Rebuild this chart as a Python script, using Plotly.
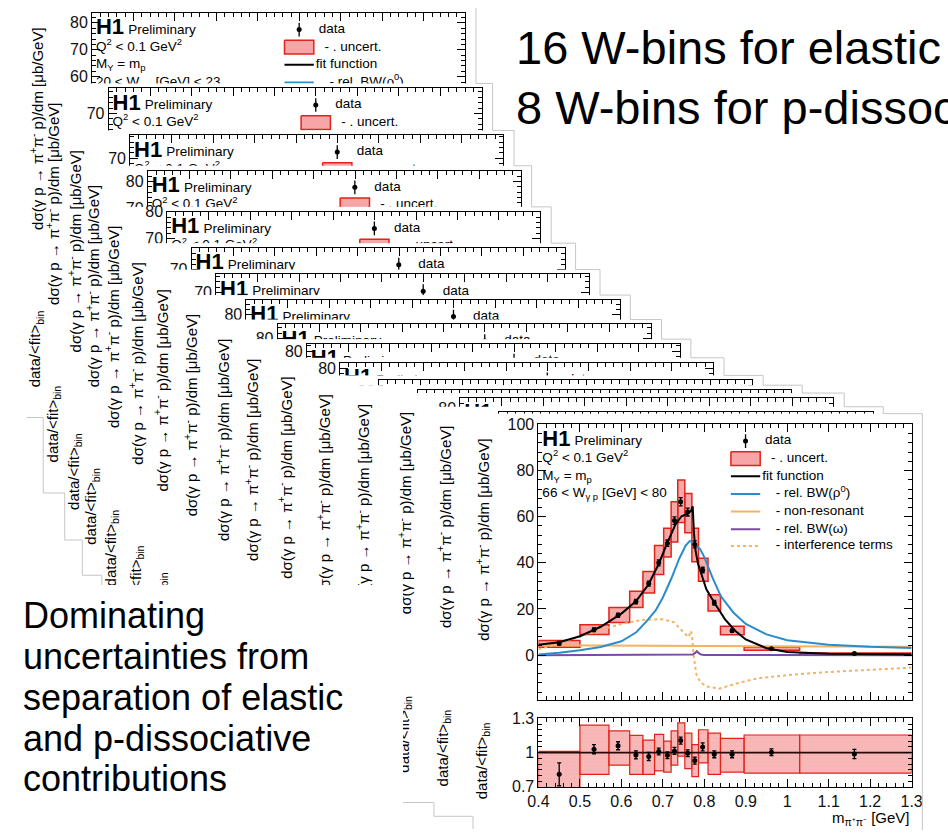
import plotly.graph_objects as go

FIG_W, FIG_H = 948, 839

# ---------------- data: front W bin (66 < W_gp < 80 GeV, elastic) ----------------
m_edges = [0.40, 0.50, 0.57, 0.62, 0.652, 0.68, 0.702, 0.72, 0.736, 0.753,
           0.77, 0.786, 0.809, 0.839, 0.896, 1.03, 1.30]
m_data = [0.45, 0.534, 0.592, 0.635, 0.666, 0.69, 0.711, 0.728, 0.743, 0.76,
          0.777, 0.796, 0.824, 0.867, 0.962, 1.162]
xsec = [5.2, 11.0, 17.3, 23.2, 31.0, 40.0, 48.5, 58.3, 66.5, 62.0,
        48.0, 36.9, 22.7, 10.6, 2.8, 0.7]
xsec_stat = [0.8, 0.8, 0.9, 1.0, 1.1, 1.3, 1.4, 1.6, 1.8, 1.7,
             1.5, 1.2, 1.0, 0.7, 0.3, 0.2]
xsec_unc_lo = [3.4, 8.9, 14.2, 20.6, 26.9, 35.0, 42.5, 49.0, 57.5, 53.0,
               40.5, 32.0, 19.1, 8.8, 2.1, 0.45]
xsec_unc_hi = [6.4, 13.2, 20.6, 27.7, 36.2, 47.5, 55.0, 66.5, 75.9, 70.0,
               55.0, 42.0, 26.2, 12.5, 3.5, 0.95]

ratio = [0.81, 1.03, 1.06, 0.98, 0.966, 1.01, 0.977, 1.015, 1.105, 0.994,
         0.93, 1.05, 0.985, 0.985, 1.003, 0.988]
ratio_err = [0.10, 0.04, 0.035, 0.035, 0.035, 0.03, 0.03, 0.03, 0.03, 0.03,
             0.03, 0.035, 0.03, 0.03, 0.03, 0.04]
ratio_unc_lo = [0.64, 0.81, 0.89, 0.81, 0.81, 0.84, 0.83, 0.89, 0.97, 0.86,
                0.79, 0.91, 0.81, 0.83, 0.82, 0.82]
ratio_unc_hi = [1.01, 1.24, 1.19, 1.15, 1.11, 1.16, 1.10, 1.19, 1.26, 1.17,
                1.07, 1.20, 1.17, 1.125, 1.154, 1.154]

fit_m = [0.40, 0.45, 0.50, 0.55, 0.60, 0.635, 0.665, 0.69, 0.71, 0.73, 0.745,
         0.76, 0.768, 0.772, 0.775, 0.779, 0.785, 0.795, 0.805, 0.825, 0.85,
         0.875, 0.90, 0.95, 1.00, 1.10, 1.20, 1.30]
fit_y = [4.5, 5.6, 8.2, 12.3, 18.0, 23.3, 30.5, 39.5, 48.3, 56.5, 60.2,
         61.3, 62.5, 64.5, 53.0, 45.0, 39.5, 34.0, 28.5, 22.5, 15.5,
         10.5, 6.8, 3.0, 1.4, 0.6, 0.4, 0.3]
rho_m = [0.40, 0.45, 0.50, 0.55, 0.60, 0.636, 0.66, 0.683, 0.70, 0.72, 0.74,
         0.755, 0.765, 0.775, 0.79, 0.80, 0.82, 0.84, 0.87, 0.90, 0.95, 1.00,
         1.10, 1.20, 1.30]
rho_y = [0.3, 1.0, 2.1, 3.5, 6.0, 9.9, 14.5, 19.5, 25.0, 33.0, 42.0,
         47.5, 49.5, 48.5, 46.0, 42.5, 33.5, 25.5, 18.5, 13.5, 9.0, 6.5,
         4.5, 3.6, 3.1]
nonres_m = [0.40, 0.60, 0.80, 1.00, 1.30]
nonres_y = [4.3, 4.2, 4.0, 3.8, 3.6]
omega_m = [0.40, 0.76, 0.772, 0.778, 0.782, 0.786, 0.792, 0.80, 1.30]
omega_y = [0.0, 0.05, 0.3, 1.0, 1.7, 1.0, 0.3, 0.05, 0.0]
interf_m = [0.40, 0.45, 0.50, 0.55, 0.60, 0.65, 0.70, 0.727, 0.75, 0.762,
            0.768, 0.771, 0.774, 0.777, 0.781, 0.79, 0.804, 0.836, 0.883,
            0.93, 1.01, 1.09, 1.20, 1.30]
interf_y = [2.5, 5.0, 8.0, 11.0, 13.5, 15.3, 15.6, 14.2, 9.9, 7.8,
            10.5, 7.0, 0.0, -4.0, -8.5, -11.5, -13.5, -14.5, -12.0,
            -10.0, -8.5, -7.4, -6.3, -5.4]

# tick labels
main_y_ticks = [0, 20, 40, 60, 80, 100]
casc_y_ticks = [0, 10, 20, 30, 40, 50, 60, 70, 80]
ratio_y_ticks = [0.7, 1.0, 1.3]
ratio_y_ticktext = ["0.7", "1", "1.3"]
x_ticks = [0.4, 0.5, 0.6, 0.7, 0.8, 0.9, 1.0, 1.1, 1.2, 1.3]
x_ticktext = ["0.4", "0.5", "0.6", "0.7", "0.8", "0.9", "1", "1.1", "1.2", "1.3"]

# cascade of the other W-bin plots behind (frame top-left in pixels, y-axis top value)
casc_left = [83, 100, 122, 140, 160, 185, 210, 241, 273, 303, 337, 377, 417, 460, 500]
casc_top = [5, 82, 130, 166, 208, 245, 272, 298, 323, 343, 362, 380, 390, 398, 412]
casc_ymax = [83.7, 79.3, 78.5, 84.0, 80.0, 78.1, 76.7, 85.5, 85.2, 82.6, 82.2,
             84.0, 84.0, 84.0, 84.0]
casc_wtext = ["20 &lt; W<sub>γ p</sub> [GeV] &lt; 23"] + [None] * 14
main_wtext = "66 &lt; W<sub>γ p</sub> [GeV] &lt; 80"
MAIN_LEFT, MAIN_TOP = 540, 425
FRAME_W, FRAME_H = 382, 281
RATIO_TOP, RATIO_BOT = 725, 795
MAIN_YMIN, MAIN_YMAX = -19.3, 100.0
CASC_PX_PER_UNIT = 2.75

FONT = "Liberation Sans, Arial, Helvetica, sans-serif"
BLUE = "#2b8ccb"
ORANGE = "#f5b262"
PURPLE = "#7a4aa6"
RED_LINE = "#e2231a"
BOX_FILL = "rgba(238,92,92,0.55)"
BORDER = "#c6c6c6"


def fx(px):
    return min(1.0, max(0.0, px / FIG_W))


def fy(py):
    return min(1.0, max(0.0, 1.0 - py / FIG_H))


axes = {}
traces = []
count = [0]


def new_subplot(x0, x1, top, bottom, xkw, ykw):
    count[0] += 1
    n = count[0]
    xid = "x" if n == 1 else f"x{n}"
    yid = "y" if n == 1 else f"y{n}"
    axes["xaxis" if n == 1 else f"xaxis{n}"] = dict(domain=[fx(x0), fx(x1)], anchor=yid, **xkw)
    axes["yaxis" if n == 1 else f"yaxis{n}"] = dict(domain=[fy(bottom), fy(top)], anchor=xid, **ykw)
    return xid, yid


hidden = dict(visible=False, range=[0, 1], fixedrange=True, showgrid=False, zeroline=False)
tickfont = dict(family=FONT, size=16, color="#111")


def frame_x(labels):
    return dict(range=[0.4, 1.3], showline=True, linecolor="black", linewidth=1,
                mirror="allticks", ticks="inside", ticklen=8, tickcolor="black",
                tickmode="array", tickvals=x_ticks, ticktext=x_ticktext,
                showticklabels=labels, tickfont=tickfont,
                minor=dict(ticks="inside", ticklen=4, dtick=0.02, tick0=0.4, tickcolor="black"),
                showgrid=False, zeroline=False, fixedrange=True)


def frame_y(rng, tickvals, mdtick):
    return dict(range=rng, showline=True, linecolor="black", linewidth=1,
                mirror="allticks", ticks="inside", ticklen=8, tickcolor="black",
                tickmode="array", tickvals=tickvals, ticktext=[str(v) for v in tickvals],
                tickfont=tickfont,
                minor=dict(ticks="inside", ticklen=4, dtick=mdtick, tick0=0, tickcolor="black"),
                showgrid=False, zeroline=False, fixedrange=True)


def empty(xid, yid):
    traces.append(go.Scatter(x=[None], y=[None], xaxis=xid, yaxis=yid,
                             hoverinfo="skip", showlegend=False))


def add_decor(xid, yid, ymin, ymax, wtext):
    def gx(dx):
        return 0.4 + dx * 0.9 / FRAME_W

    def gy(dy):
        return ymax - dy * (ymax - ymin) / FRAME_H

    k = (ymax - ymin) / FRAME_H
    tx = [gx(4), gx(37), gx(4), gx(4)]
    ty = [gy(16), gy(18), gy(35), gy(53)]
    tt = ["<b>H1</b>", "Preliminary", "Q<sup>2</sup> &lt; 0.1 GeV<sup>2</sup>",
          "M<sub>Y</sub> = m<sub>p</sub>"]
    ts = [22, 13.5, 13.5, 13.5]
    if wtext:
        tx.append(gx(4)); ty.append(gy(71)); tt.append(wtext); ts.append(13.5)
    traces.append(go.Scatter(x=tx, y=ty, text=tt, mode="text", textposition="middle right",
                             textfont=dict(family=FONT, size=ts, color="black"),
                             xaxis=xid, yaxis=yid, hoverinfo="skip", showlegend=False))
    # legend glyphs
    g0, g1 = gx(197), gx(227)
    traces.append(go.Scatter(x=[gx(212)], y=[gy(17)], mode="markers",
                             marker=dict(size=5, color="black"),
                             error_y=dict(type="data", array=[7 * k], width=0, thickness=1.3, color="black"),
                             xaxis=xid, yaxis=yid, hoverinfo="skip", showlegend=False))
    traces.append(go.Scatter(x=[g0, g1, g1, g0, g0], y=[gy(28), gy(28), gy(42), gy(42), gy(28)],
                             mode="lines", fill="toself", fillcolor=BOX_FILL,
                             line=dict(color=RED_LINE, width=1.5),
                             xaxis=xid, yaxis=yid, hoverinfo="skip", showlegend=False))
    for dy, col, dash in [(53, "black", "solid"), (71, BLUE, "solid"), (89, ORANGE, "solid"),
                          (107, PURPLE, "solid"), (124, ORANGE, "dot")]:
        traces.append(go.Scatter(x=[g0, g1], y=[gy(dy), gy(dy)], mode="lines",
                                 line=dict(color=col, width=2, dash=dash),
                                 xaxis=xid, yaxis=yid, hoverinfo="skip", showlegend=False))
    lx = [gx(232), gx(238), gx(229), gx(243), gx(243), gx(243), gx(243)]
    ly = [gy(17), gy(35), gy(53), gy(71), gy(89), gy(107), gy(124)]
    lt = ["data", "- . uncert.", "fit function", "- rel. BW(ρ<sup>0</sup>)",
          "- non-resonant", "- rel. BW(ω)", "- interference terms"]
    traces.append(go.Scatter(x=lx, y=ly, text=lt, mode="text", textposition="middle right",
                             textfont=dict(family=FONT, size=13.5, color="black"),
                             xaxis=xid, yaxis=yid, hoverinfo="skip", showlegend=False))


def vtitle(xpx, ypx, text):
    return dict(x=fx(xpx), y=fy(ypx), xref="paper", yref="paper", xanchor="center",
                yanchor="middle", text=text, textangle=-90, showarrow=False,
                font=dict(family=FONT, size=15, color="black"))


# subplot 1: full-page base so every later subplot gets its own opaque background
xid, yid = new_subplot(0, FIG_W, 0, FIG_H, hidden, hidden)
empty(xid, yid)

annotations = []
shapes = []
ytitle = "dσ(γ p → π<sup>+</sup>π<sup>-</sup> p)/dm [μb/GeV]"
rtitle = "data/&lt;fit&gt;<sub>bin</sub>"

canv = []  # (left, right, top, bottom) of every canvas, back to front
for L, T, ymax, wt in zip(casc_left, casc_top, casc_ymax, casc_wtext):
    cl, cr, ct, cb = L - 67, L + 393, T - 5, T + 413
    canv.append((cl, cr, ct, cb))
    xid, yid = new_subplot(cl, cr, ct, cb, hidden, hidden)
    empty(xid, yid)
    ymin = ymax - FRAME_H / CASC_PX_PER_UNIT
    xid, yid = new_subplot(L, L + FRAME_W, T, T + FRAME_H, frame_x(False),
                           frame_y([ymin, ymax], casc_y_ticks, 2))
    add_decor(xid, yid, ymin, ymax, wt)
    annotations.append(vtitle(L - 57, T + 118, ytitle))
    annotations.append(vtitle(L - 57, T + 343, rtitle))

# front plot canvas
cl, cr, ct, cb = MAIN_LEFT - 67, MAIN_LEFT + 393, MAIN_TOP - 11, MAIN_TOP + 413
canv.append((cl, cr, ct, cb))
xid, yid = new_subplot(cl, cr, ct, cb, hidden, hidden)
empty(xid, yid)

# front main panel
xm, ym = new_subplot(MAIN_LEFT, MAIN_LEFT + FRAME_W, MAIN_TOP, MAIN_TOP + FRAME_H,
                     frame_x(False), frame_y([MAIN_YMIN, MAIN_YMAX], main_y_ticks, 4))
centers = [(a + b) / 2 for a, b in zip(m_edges[:-1], m_edges[1:])]
widths = [b - a for a, b in zip(m_edges[:-1], m_edges[1:])]
pattern = dict(shape="+", size=4, solidity=0.12, fgcolor="rgba(255,255,255,0.55)", fillmode="overlay")
traces.append(go.Bar(x=centers, y=[h - l for l, h in zip(xsec_unc_lo, xsec_unc_hi)],
                     base=xsec_unc_lo, width=widths, xaxis=xm, yaxis=ym,
                     marker=dict(color=BOX_FILL, line=dict(color=RED_LINE, width=1.5), pattern=pattern),
                     hoverinfo="skip", showlegend=False))
for mx, my, col, dash in [(interf_m, interf_y, ORANGE, "dot"), (nonres_m, nonres_y, ORANGE, "solid"),
                          (omega_m, omega_y, PURPLE, "solid"), (rho_m, rho_y, BLUE, "solid"),
                          (fit_m, fit_y, "black", "solid")]:
    traces.append(go.Scatter(x=mx, y=my, mode="lines", line=dict(color=col, width=2, dash=dash),
                             xaxis=xm, yaxis=ym, hoverinfo="skip", showlegend=False))
traces.append(go.Scatter(x=m_data, y=xsec, mode="markers", marker=dict(size=5, color="black"),
                         error_y=dict(type="data", array=xsec_stat, color="black", thickness=1.3, width=2),
                         xaxis=xm, yaxis=ym, hoverinfo="skip", showlegend=False))
add_decor(xm, ym, MAIN_YMIN, MAIN_YMAX, main_wtext)

# front ratio panel
rx = frame_x(True)
ry = dict(range=[0.7, 1.3], showline=True, linecolor="black", linewidth=1, mirror="allticks",
          ticks="inside", ticklen=8, tickcolor="black", tickmode="array",
          tickvals=ratio_y_ticks, ticktext=ratio_y_ticktext, tickfont=tickfont,
          minor=dict(ticks="inside", ticklen=4, dtick=0.05, tick0=0.7, tickcolor="black"),
          showgrid=False, zeroline=False, fixedrange=True)
xr, yr = new_subplot(MAIN_LEFT, MAIN_LEFT + FRAME_W, RATIO_TOP, RATIO_BOT, rx, ry)
traces.append(go.Scatter(x=[m_edges[0], m_edges[-1]], y=[1, 1], mode="lines",
                         line=dict(color="#2a0808", width=1.6), xaxis=xr, yaxis=yr,
                         hoverinfo="skip", showlegend=False))
traces.append(go.Bar(x=centers, y=[h - l for l, h in zip(ratio_unc_lo, ratio_unc_hi)],
                     base=ratio_unc_lo, width=widths, xaxis=xr, yaxis=yr,
                     marker=dict(color="rgba(240,105,105,0.5)", line=dict(color=RED_LINE, width=1.2),
                                 pattern=pattern),
                     hoverinfo="skip", showlegend=False))
traces.append(go.Scatter(x=m_data, y=ratio, mode="markers", marker=dict(size=5, color="black"),
                         error_y=dict(type="data", array=ratio_err, color="black", thickness=1.3, width=2),
                         xaxis=xr, yaxis=yr, hoverinfo="skip", showlegend=False))

# front axis titles
annotations.append(vtitle(MAIN_LEFT - 57, MAIN_TOP + 118, ytitle))
annotations.append(vtitle(MAIN_LEFT - 57, MAIN_TOP + 343, rtitle))
annotations.append(dict(x=fx(MAIN_LEFT + FRAME_W), y=fy(827), xref="paper", yref="paper",
                        xanchor="right", yanchor="middle", text="m<sub>π⁺π⁻</sub> [GeV]",
                        showarrow=False, font=dict(family=FONT, size=15, color="black")))


# canvas edges that remain visible (staircases)
def seg(x0, y0, x1, y1):
    shapes.append(dict(type="line", xref="paper", yref="paper", x0=fx(x0), y0=fy(y0),
                       x1=fx(x1), y1=fy(y1), line=dict(color=BORDER, width=1), layer="above"))


for i in range(len(canv) - 1):
    cl0, cr0, ct0, cb0 = canv[i]
    cl1, cr1, ct1, cb1 = canv[i + 1]
    seg(cl0, cb0, cl1, cb0)
    seg(cl1, cb0, cl1, min(cb1, FIG_H))
    seg(cr0, max(ct0, 0), cr0, ct1)
    seg(cr0, ct1, cr1, ct1)
seg(canv[-1][1], canv[-1][2], canv[-1][1], FIG_H)
COVER_TOP, COVER_RIGHT = 589, 392
seg(canv[13][0], COVER_TOP, canv[13][0], canv[12][3])

# white text box of the slide (covers the lower-left part of the cascade)
annotations.append(dict(x=0, y=fy(COVER_TOP), xref="paper", yref="paper", xanchor="left",
                        yanchor="top", width=COVER_RIGHT, height=FIG_H - COVER_TOP,
                        text="\u00a0", bgcolor="white", borderpad=0, borderwidth=0,
                        showarrow=False, font=dict(size=10)))
slide_lines = ["Dominating", "uncertainties from", "separation of elastic",
               "and p-dissociative", "contributions"]
for j, s in enumerate(slide_lines):
    annotations.append(dict(x=fx(10), y=fy(620 + 41.7 * j), xref="paper", yref="paper",
                            xanchor="left", yanchor="middle", text=s, showarrow=False,
                            font=dict(family=FONT, size=36, color="black")))
for s, yc in [("16 W-bins for elastic", 40), ("8 W-bins for p-dissociative", 102)]:
    annotations.append(dict(x=fx(515), y=fy(yc), xref="paper", yref="paper",
                            xanchor="left", yanchor="middle", text=s, showarrow=False,
                            font=dict(family=FONT, size=47, color="black")))

fig = go.Figure(data=traces)
fig.update_layout(width=FIG_W, height=FIG_H, autosize=False,
                  margin=dict(l=0, r=0, t=0, b=0),
                  paper_bgcolor="white", plot_bgcolor="white",
                  barmode="overlay", showlegend=False, hovermode=False,
                  annotations=annotations, shapes=shapes, **axes)
fig.write_html("out.html")
